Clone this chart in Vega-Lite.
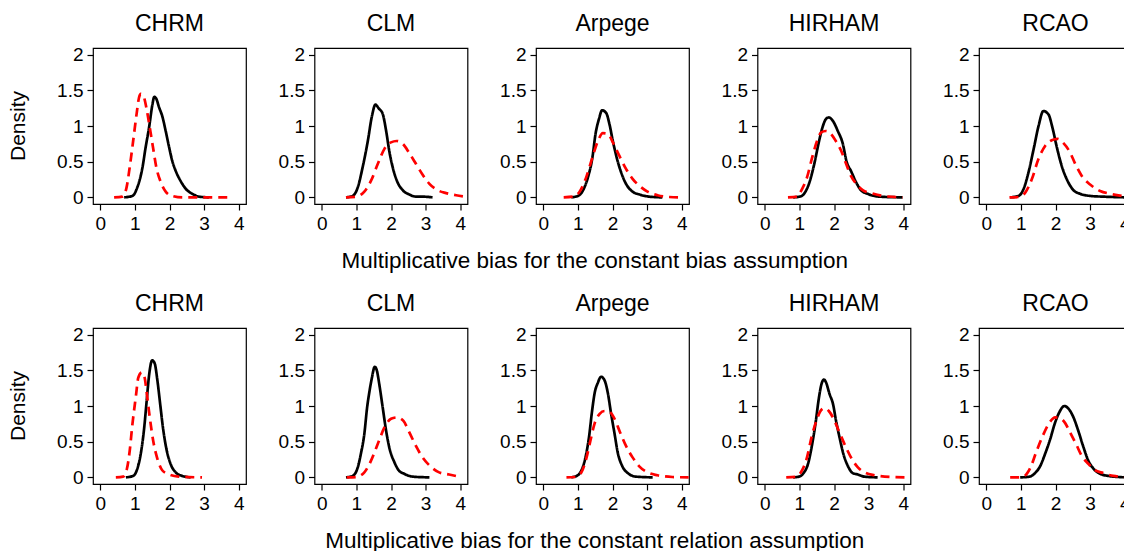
{
  "$schema": "https://vega.github.io/schema/vega-lite/v6.json",
  "padding": {"left": 8, "top": 13, "right": 0, "bottom": 0},
  "config": {
    "font": "Liberation Sans",
    "view": {"stroke": "black", "strokeWidth": 1.2},
    "axis": {"grid": false, "domain": false, "tickColor": "black", "tickSize": 6, "tickWidth": 1.2, "labelColor": "black", "labelFontSize": 19, "labelPadding": 4, "labelFont": "Liberation Sans", "title": null},
    "header": {"labelFont": "Liberation Sans", "labelColor": "black"},
    "title": {"font": "Liberation Sans", "fontWeight": "normal", "color": "black"}
  },
  "datasets": {
    "d": [
      {"assumption":"bias","model":"CHRM","curve":"1","x":0.69,"y":0},{"assumption":"bias","model":"CHRM","curve":"1","x":0.93,"y":0.02},{"assumption":"bias","model":"CHRM","curve":"1","x":1.07,"y":0.14},{"assumption":"bias","model":"CHRM","curve":"1","x":1.22,"y":0.42},{"assumption":"bias","model":"CHRM","curve":"1","x":1.31,"y":0.70},{"assumption":"bias","model":"CHRM","curve":"1","x":1.41,"y":0.98},{"assumption":"bias","model":"CHRM","curve":"1","x":1.51,"y":1.31},{"assumption":"bias","model":"CHRM","curve":"1","x":1.56,"y":1.41},{"assumption":"bias","model":"CHRM","curve":"1","x":1.62,"y":1.38},{"assumption":"bias","model":"CHRM","curve":"1","x":1.70,"y":1.26},{"assumption":"bias","model":"CHRM","curve":"1","x":1.79,"y":1.14},{"assumption":"bias","model":"CHRM","curve":"1","x":1.89,"y":0.93},{"assumption":"bias","model":"CHRM","curve":"1","x":1.99,"y":0.70},{"assumption":"bias","model":"CHRM","curve":"1","x":2.08,"y":0.51},{"assumption":"bias","model":"CHRM","curve":"1","x":2.18,"y":0.37},{"assumption":"bias","model":"CHRM","curve":"1","x":2.32,"y":0.23},{"assumption":"bias","model":"CHRM","curve":"1","x":2.47,"y":0.12},{"assumption":"bias","model":"CHRM","curve":"1","x":2.66,"y":0.05},{"assumption":"bias","model":"CHRM","curve":"1","x":2.85,"y":0.01},{"assumption":"bias","model":"CHRM","curve":"1","x":3.14,"y":0},
      {"assumption":"bias","model":"CHRM","curve":"2","x":0.40,"y":0},{"assumption":"bias","model":"CHRM","curve":"2","x":0.64,"y":0.01},{"assumption":"bias","model":"CHRM","curve":"2","x":0.76,"y":0.14},{"assumption":"bias","model":"CHRM","curve":"2","x":0.85,"y":0.42},{"assumption":"bias","model":"CHRM","curve":"2","x":0.95,"y":0.79},{"assumption":"bias","model":"CHRM","curve":"2","x":1.05,"y":1.17},{"assumption":"bias","model":"CHRM","curve":"2","x":1.12,"y":1.40},{"assumption":"bias","model":"CHRM","curve":"2","x":1.17,"y":1.45},{"assumption":"bias","model":"CHRM","curve":"2","x":1.24,"y":1.43},{"assumption":"bias","model":"CHRM","curve":"2","x":1.33,"y":1.26},{"assumption":"bias","model":"CHRM","curve":"2","x":1.43,"y":0.98},{"assumption":"bias","model":"CHRM","curve":"2","x":1.53,"y":0.68},{"assumption":"bias","model":"CHRM","curve":"2","x":1.62,"y":0.42},{"assumption":"bias","model":"CHRM","curve":"2","x":1.75,"y":0.21},{"assumption":"bias","model":"CHRM","curve":"2","x":1.89,"y":0.08},{"assumption":"bias","model":"CHRM","curve":"2","x":2.08,"y":0.02},{"assumption":"bias","model":"CHRM","curve":"2","x":2.37,"y":0},{"assumption":"bias","model":"CHRM","curve":"2","x":3.71,"y":0},
      {"assumption":"bias","model":"CLM","curve":"1","x":0.70,"y":0},{"assumption":"bias","model":"CLM","curve":"1","x":0.89,"y":0.02},{"assumption":"bias","model":"CLM","curve":"1","x":1.04,"y":0.14},{"assumption":"bias","model":"CLM","curve":"1","x":1.18,"y":0.42},{"assumption":"bias","model":"CLM","curve":"1","x":1.33,"y":0.79},{"assumption":"bias","model":"CLM","curve":"1","x":1.45,"y":1.14},{"assumption":"bias","model":"CLM","curve":"1","x":1.55,"y":1.30},{"assumption":"bias","model":"CLM","curve":"1","x":1.64,"y":1.25},{"assumption":"bias","model":"CLM","curve":"1","x":1.76,"y":1.17},{"assumption":"bias","model":"CLM","curve":"1","x":1.86,"y":0.93},{"assumption":"bias","model":"CLM","curve":"1","x":1.95,"y":0.65},{"assumption":"bias","model":"CLM","curve":"1","x":2.05,"y":0.42},{"assumption":"bias","model":"CLM","curve":"1","x":2.19,"y":0.21},{"assumption":"bias","model":"CLM","curve":"1","x":2.34,"y":0.10},{"assumption":"bias","model":"CLM","curve":"1","x":2.53,"y":0.04},{"assumption":"bias","model":"CLM","curve":"1","x":2.72,"y":0.01},{"assumption":"bias","model":"CLM","curve":"1","x":2.91,"y":0.01},{"assumption":"bias","model":"CLM","curve":"1","x":3.20,"y":0},
      {"assumption":"bias","model":"CLM","curve":"2","x":0.70,"y":0},{"assumption":"bias","model":"CLM","curve":"2","x":0.99,"y":0.01},{"assumption":"bias","model":"CLM","curve":"2","x":1.23,"y":0.08},{"assumption":"bias","model":"CLM","curve":"2","x":1.42,"y":0.23},{"assumption":"bias","model":"CLM","curve":"2","x":1.62,"y":0.47},{"assumption":"bias","model":"CLM","curve":"2","x":1.81,"y":0.68},{"assumption":"bias","model":"CLM","curve":"2","x":2.00,"y":0.77},{"assumption":"bias","model":"CLM","curve":"2","x":2.16,"y":0.79},{"assumption":"bias","model":"CLM","curve":"2","x":2.34,"y":0.75},{"assumption":"bias","model":"CLM","curve":"2","x":2.53,"y":0.62},{"assumption":"bias","model":"CLM","curve":"2","x":2.72,"y":0.47},{"assumption":"bias","model":"CLM","curve":"2","x":2.91,"y":0.32},{"assumption":"bias","model":"CLM","curve":"2","x":3.11,"y":0.19},{"assumption":"bias","model":"CLM","curve":"2","x":3.35,"y":0.10},{"assumption":"bias","model":"CLM","curve":"2","x":3.59,"y":0.06},{"assumption":"bias","model":"CLM","curve":"2","x":3.88,"y":0.03},{"assumption":"bias","model":"CLM","curve":"2","x":4.12,"y":0.01},
      {"assumption":"bias","model":"Arpege","curve":"1","x":0.81,"y":0},{"assumption":"bias","model":"Arpege","curve":"1","x":1.00,"y":0.02},{"assumption":"bias","model":"Arpege","curve":"1","x":1.15,"y":0.10},{"assumption":"bias","model":"Arpege","curve":"1","x":1.29,"y":0.28},{"assumption":"bias","model":"Arpege","curve":"1","x":1.42,"y":0.56},{"assumption":"bias","model":"Arpege","curve":"1","x":1.51,"y":0.89},{"assumption":"bias","model":"Arpege","curve":"1","x":1.61,"y":1.10},{"assumption":"bias","model":"Arpege","curve":"1","x":1.70,"y":1.22},{"assumption":"bias","model":"Arpege","curve":"1","x":1.82,"y":1.18},{"assumption":"bias","model":"Arpege","curve":"1","x":1.91,"y":1.03},{"assumption":"bias","model":"Arpege","curve":"1","x":2.01,"y":0.79},{"assumption":"bias","model":"Arpege","curve":"1","x":2.12,"y":0.56},{"assumption":"bias","model":"Arpege","curve":"1","x":2.25,"y":0.35},{"assumption":"bias","model":"Arpege","curve":"1","x":2.39,"y":0.19},{"assumption":"bias","model":"Arpege","curve":"1","x":2.58,"y":0.08},{"assumption":"bias","model":"Arpege","curve":"1","x":2.78,"y":0.04},{"assumption":"bias","model":"Arpege","curve":"1","x":3.06,"y":0.01},{"assumption":"bias","model":"Arpege","curve":"1","x":3.44,"y":0},
      {"assumption":"bias","model":"Arpege","curve":"2","x":0.59,"y":0},{"assumption":"bias","model":"Arpege","curve":"2","x":0.86,"y":0.01},{"assumption":"bias","model":"Arpege","curve":"2","x":1.05,"y":0.08},{"assumption":"bias","model":"Arpege","curve":"2","x":1.24,"y":0.28},{"assumption":"bias","model":"Arpege","curve":"2","x":1.42,"y":0.56},{"assumption":"bias","model":"Arpege","curve":"2","x":1.58,"y":0.79},{"assumption":"bias","model":"Arpege","curve":"2","x":1.72,"y":0.90},{"assumption":"bias","model":"Arpege","curve":"2","x":1.87,"y":0.89},{"assumption":"bias","model":"Arpege","curve":"2","x":2.01,"y":0.77},{"assumption":"bias","model":"Arpege","curve":"2","x":2.20,"y":0.58},{"assumption":"bias","model":"Arpege","curve":"2","x":2.39,"y":0.40},{"assumption":"bias","model":"Arpege","curve":"2","x":2.58,"y":0.26},{"assumption":"bias","model":"Arpege","curve":"2","x":2.78,"y":0.16},{"assumption":"bias","model":"Arpege","curve":"2","x":3.01,"y":0.08},{"assumption":"bias","model":"Arpege","curve":"2","x":3.30,"y":0.03},{"assumption":"bias","model":"Arpege","curve":"2","x":3.64,"y":0.005},{"assumption":"bias","model":"Arpege","curve":"2","x":4.02,"y":0},
      {"assumption":"bias","model":"HIRHAM","curve":"1","x":0.82,"y":0},{"assumption":"bias","model":"HIRHAM","curve":"1","x":1.01,"y":0.01},{"assumption":"bias","model":"HIRHAM","curve":"1","x":1.15,"y":0.06},{"assumption":"bias","model":"HIRHAM","curve":"1","x":1.29,"y":0.21},{"assumption":"bias","model":"HIRHAM","curve":"1","x":1.44,"y":0.49},{"assumption":"bias","model":"HIRHAM","curve":"1","x":1.56,"y":0.77},{"assumption":"bias","model":"HIRHAM","curve":"1","x":1.68,"y":1.00},{"assumption":"bias","model":"HIRHAM","curve":"1","x":1.77,"y":1.10},{"assumption":"bias","model":"HIRHAM","curve":"1","x":1.85,"y":1.12},{"assumption":"bias","model":"HIRHAM","curve":"1","x":1.97,"y":1.07},{"assumption":"bias","model":"HIRHAM","curve":"1","x":2.11,"y":0.93},{"assumption":"bias","model":"HIRHAM","curve":"1","x":2.25,"y":0.76},{"assumption":"bias","model":"HIRHAM","curve":"1","x":2.37,"y":0.49},{"assumption":"bias","model":"HIRHAM","curve":"1","x":2.49,"y":0.37},{"assumption":"bias","model":"HIRHAM","curve":"1","x":2.64,"y":0.21},{"assumption":"bias","model":"HIRHAM","curve":"1","x":2.78,"y":0.10},{"assumption":"bias","model":"HIRHAM","curve":"1","x":2.97,"y":0.05},{"assumption":"bias","model":"HIRHAM","curve":"1","x":3.31,"y":0.01},{"assumption":"bias","model":"HIRHAM","curve":"1","x":3.98,"y":0},
      {"assumption":"bias","model":"HIRHAM","curve":"2","x":0.67,"y":0},{"assumption":"bias","model":"HIRHAM","curve":"2","x":0.93,"y":0.01},{"assumption":"bias","model":"HIRHAM","curve":"2","x":1.08,"y":0.12},{"assumption":"bias","model":"HIRHAM","curve":"2","x":1.22,"y":0.28},{"assumption":"bias","model":"HIRHAM","curve":"2","x":1.37,"y":0.56},{"assumption":"bias","model":"HIRHAM","curve":"2","x":1.51,"y":0.79},{"assumption":"bias","model":"HIRHAM","curve":"2","x":1.63,"y":0.91},{"assumption":"bias","model":"HIRHAM","curve":"2","x":1.76,"y":0.93},{"assumption":"bias","model":"HIRHAM","curve":"2","x":1.89,"y":0.90},{"assumption":"bias","model":"HIRHAM","curve":"2","x":2.04,"y":0.80},{"assumption":"bias","model":"HIRHAM","curve":"2","x":2.21,"y":0.65},{"assumption":"bias","model":"HIRHAM","curve":"2","x":2.35,"y":0.47},{"assumption":"bias","model":"HIRHAM","curve":"2","x":2.49,"y":0.30},{"assumption":"bias","model":"HIRHAM","curve":"2","x":2.66,"y":0.18},{"assumption":"bias","model":"HIRHAM","curve":"2","x":2.83,"y":0.10},{"assumption":"bias","model":"HIRHAM","curve":"2","x":3.07,"y":0.06},{"assumption":"bias","model":"HIRHAM","curve":"2","x":3.41,"y":0.02},{"assumption":"bias","model":"HIRHAM","curve":"2","x":3.98,"y":0},
      {"assumption":"bias","model":"RCAO","curve":"1","x":0.69,"y":0},{"assumption":"bias","model":"RCAO","curve":"1","x":0.93,"y":0.02},{"assumption":"bias","model":"RCAO","curve":"1","x":1.08,"y":0.12},{"assumption":"bias","model":"RCAO","curve":"1","x":1.22,"y":0.35},{"assumption":"bias","model":"RCAO","curve":"1","x":1.37,"y":0.68},{"assumption":"bias","model":"RCAO","curve":"1","x":1.51,"y":1.00},{"assumption":"bias","model":"RCAO","curve":"1","x":1.65,"y":1.21},{"assumption":"bias","model":"RCAO","curve":"1","x":1.80,"y":1.16},{"assumption":"bias","model":"RCAO","curve":"1","x":1.91,"y":0.98},{"assumption":"bias","model":"RCAO","curve":"1","x":2.04,"y":0.70},{"assumption":"bias","model":"RCAO","curve":"1","x":2.18,"y":0.44},{"assumption":"bias","model":"RCAO","curve":"1","x":2.35,"y":0.23},{"assumption":"bias","model":"RCAO","curve":"1","x":2.52,"y":0.10},{"assumption":"bias","model":"RCAO","curve":"1","x":2.71,"y":0.05},{"assumption":"bias","model":"RCAO","curve":"1","x":3.00,"y":0.02},{"assumption":"bias","model":"RCAO","curve":"1","x":3.38,"y":0.01},{"assumption":"bias","model":"RCAO","curve":"1","x":4.08,"y":0},
      {"assumption":"bias","model":"RCAO","curve":"2","x":0.67,"y":0},{"assumption":"bias","model":"RCAO","curve":"2","x":0.93,"y":0.005},{"assumption":"bias","model":"RCAO","curve":"2","x":1.13,"y":0.07},{"assumption":"bias","model":"RCAO","curve":"2","x":1.32,"y":0.26},{"assumption":"bias","model":"RCAO","curve":"2","x":1.51,"y":0.54},{"assumption":"bias","model":"RCAO","curve":"2","x":1.70,"y":0.72},{"assumption":"bias","model":"RCAO","curve":"2","x":1.89,"y":0.80},{"assumption":"bias","model":"RCAO","curve":"2","x":2.06,"y":0.82},{"assumption":"bias","model":"RCAO","curve":"2","x":2.23,"y":0.76},{"assumption":"bias","model":"RCAO","curve":"2","x":2.42,"y":0.63},{"assumption":"bias","model":"RCAO","curve":"2","x":2.57,"y":0.47},{"assumption":"bias","model":"RCAO","curve":"2","x":2.76,"y":0.30},{"assumption":"bias","model":"RCAO","curve":"2","x":3.00,"y":0.18},{"assumption":"bias","model":"RCAO","curve":"2","x":3.29,"y":0.09},{"assumption":"bias","model":"RCAO","curve":"2","x":3.58,"y":0.05},{"assumption":"bias","model":"RCAO","curve":"2","x":4.08,"y":0.01},
      {"assumption":"relation","model":"CHRM","curve":"1","x":0.74,"y":0},{"assumption":"relation","model":"CHRM","curve":"1","x":0.95,"y":0.02},{"assumption":"relation","model":"CHRM","curve":"1","x":1.07,"y":0.12},{"assumption":"relation","model":"CHRM","curve":"1","x":1.17,"y":0.33},{"assumption":"relation","model":"CHRM","curve":"1","x":1.27,"y":0.70},{"assumption":"relation","model":"CHRM","curve":"1","x":1.34,"y":1.07},{"assumption":"relation","model":"CHRM","curve":"1","x":1.41,"y":1.43},{"assumption":"relation","model":"CHRM","curve":"1","x":1.50,"y":1.64},{"assumption":"relation","model":"CHRM","curve":"1","x":1.57,"y":1.60},{"assumption":"relation","model":"CHRM","curve":"1","x":1.65,"y":1.36},{"assumption":"relation","model":"CHRM","curve":"1","x":1.73,"y":1.03},{"assumption":"relation","model":"CHRM","curve":"1","x":1.81,"y":0.70},{"assumption":"relation","model":"CHRM","curve":"1","x":1.91,"y":0.40},{"assumption":"relation","model":"CHRM","curve":"1","x":2.03,"y":0.19},{"assumption":"relation","model":"CHRM","curve":"1","x":2.18,"y":0.07},{"assumption":"relation","model":"CHRM","curve":"1","x":2.37,"y":0.02},{"assumption":"relation","model":"CHRM","curve":"1","x":2.61,"y":0},
      {"assumption":"relation","model":"CHRM","curve":"2","x":0.45,"y":0},{"assumption":"relation","model":"CHRM","curve":"2","x":0.66,"y":0.01},{"assumption":"relation","model":"CHRM","curve":"2","x":0.77,"y":0.12},{"assumption":"relation","model":"CHRM","curve":"2","x":0.85,"y":0.37},{"assumption":"relation","model":"CHRM","curve":"2","x":0.93,"y":0.75},{"assumption":"relation","model":"CHRM","curve":"2","x":1.03,"y":1.14},{"assumption":"relation","model":"CHRM","curve":"2","x":1.10,"y":1.40},{"assumption":"relation","model":"CHRM","curve":"2","x":1.20,"y":1.47},{"assumption":"relation","model":"CHRM","curve":"2","x":1.28,"y":1.40},{"assumption":"relation","model":"CHRM","curve":"2","x":1.34,"y":1.19},{"assumption":"relation","model":"CHRM","curve":"2","x":1.43,"y":0.84},{"assumption":"relation","model":"CHRM","curve":"2","x":1.53,"y":0.51},{"assumption":"relation","model":"CHRM","curve":"2","x":1.65,"y":0.26},{"assumption":"relation","model":"CHRM","curve":"2","x":1.79,"y":0.10},{"assumption":"relation","model":"CHRM","curve":"2","x":1.99,"y":0.04},{"assumption":"relation","model":"CHRM","curve":"2","x":2.27,"y":0.01},{"assumption":"relation","model":"CHRM","curve":"2","x":2.94,"y":0},
      {"assumption":"relation","model":"CLM","curve":"1","x":0.70,"y":0},{"assumption":"relation","model":"CLM","curve":"1","x":0.89,"y":0.02},{"assumption":"relation","model":"CLM","curve":"1","x":1.04,"y":0.14},{"assumption":"relation","model":"CLM","curve":"1","x":1.13,"y":0.33},{"assumption":"relation","model":"CLM","curve":"1","x":1.23,"y":0.61},{"assumption":"relation","model":"CLM","curve":"1","x":1.31,"y":0.98},{"assumption":"relation","model":"CLM","curve":"1","x":1.38,"y":1.21},{"assumption":"relation","model":"CLM","curve":"1","x":1.45,"y":1.40},{"assumption":"relation","model":"CLM","curve":"1","x":1.53,"y":1.55},{"assumption":"relation","model":"CLM","curve":"1","x":1.59,"y":1.50},{"assumption":"relation","model":"CLM","curve":"1","x":1.66,"y":1.31},{"assumption":"relation","model":"CLM","curve":"1","x":1.76,"y":0.98},{"assumption":"relation","model":"CLM","curve":"1","x":1.86,"y":0.65},{"assumption":"relation","model":"CLM","curve":"1","x":1.95,"y":0.42},{"assumption":"relation","model":"CLM","curve":"1","x":2.10,"y":0.21},{"assumption":"relation","model":"CLM","curve":"1","x":2.22,"y":0.10},{"assumption":"relation","model":"CLM","curve":"1","x":2.38,"y":0.05},{"assumption":"relation","model":"CLM","curve":"1","x":2.63,"y":0.01},{"assumption":"relation","model":"CLM","curve":"1","x":3.11,"y":0},
      {"assumption":"relation","model":"CLM","curve":"2","x":0.72,"y":0},{"assumption":"relation","model":"CLM","curve":"2","x":0.99,"y":0.005},{"assumption":"relation","model":"CLM","curve":"2","x":1.23,"y":0.07},{"assumption":"relation","model":"CLM","curve":"2","x":1.42,"y":0.23},{"assumption":"relation","model":"CLM","curve":"2","x":1.62,"y":0.47},{"assumption":"relation","model":"CLM","curve":"2","x":1.81,"y":0.70},{"assumption":"relation","model":"CLM","curve":"2","x":2.00,"y":0.82},{"assumption":"relation","model":"CLM","curve":"2","x":2.18,"y":0.84},{"assumption":"relation","model":"CLM","curve":"2","x":2.36,"y":0.79},{"assumption":"relation","model":"CLM","curve":"2","x":2.53,"y":0.63},{"assumption":"relation","model":"CLM","curve":"2","x":2.72,"y":0.44},{"assumption":"relation","model":"CLM","curve":"2","x":2.91,"y":0.28},{"assumption":"relation","model":"CLM","curve":"2","x":3.15,"y":0.15},{"assumption":"relation","model":"CLM","curve":"2","x":3.39,"y":0.07},{"assumption":"relation","model":"CLM","curve":"2","x":3.68,"y":0.04},{"assumption":"relation","model":"CLM","curve":"2","x":3.97,"y":0.01},
      {"assumption":"relation","model":"Arpege","curve":"1","x":0.81,"y":0},{"assumption":"relation","model":"Arpege","curve":"1","x":1.00,"y":0.03},{"assumption":"relation","model":"Arpege","curve":"1","x":1.13,"y":0.13},{"assumption":"relation","model":"Arpege","curve":"1","x":1.22,"y":0.28},{"assumption":"relation","model":"Arpege","curve":"1","x":1.32,"y":0.56},{"assumption":"relation","model":"Arpege","curve":"1","x":1.41,"y":0.93},{"assumption":"relation","model":"Arpege","curve":"1","x":1.48,"y":1.17},{"assumption":"relation","model":"Arpege","curve":"1","x":1.58,"y":1.33},{"assumption":"relation","model":"Arpege","curve":"1","x":1.67,"y":1.41},{"assumption":"relation","model":"Arpege","curve":"1","x":1.77,"y":1.36},{"assumption":"relation","model":"Arpege","curve":"1","x":1.87,"y":1.17},{"assumption":"relation","model":"Arpege","curve":"1","x":1.96,"y":0.89},{"assumption":"relation","model":"Arpege","curve":"1","x":2.06,"y":0.61},{"assumption":"relation","model":"Arpege","curve":"1","x":2.15,"y":0.35},{"assumption":"relation","model":"Arpege","curve":"1","x":2.28,"y":0.16},{"assumption":"relation","model":"Arpege","curve":"1","x":2.44,"y":0.06},{"assumption":"relation","model":"Arpege","curve":"1","x":2.68,"y":0.01},{"assumption":"relation","model":"Arpege","curve":"1","x":3.16,"y":0},
      {"assumption":"relation","model":"Arpege","curve":"2","x":0.67,"y":0},{"assumption":"relation","model":"Arpege","curve":"2","x":0.91,"y":0.005},{"assumption":"relation","model":"Arpege","curve":"2","x":1.10,"y":0.07},{"assumption":"relation","model":"Arpege","curve":"2","x":1.24,"y":0.26},{"assumption":"relation","model":"Arpege","curve":"2","x":1.36,"y":0.51},{"assumption":"relation","model":"Arpege","curve":"2","x":1.48,"y":0.75},{"assumption":"relation","model":"Arpege","curve":"2","x":1.63,"y":0.89},{"assumption":"relation","model":"Arpege","curve":"2","x":1.77,"y":0.93},{"assumption":"relation","model":"Arpege","curve":"2","x":1.91,"y":0.92},{"assumption":"relation","model":"Arpege","curve":"2","x":2.06,"y":0.82},{"assumption":"relation","model":"Arpege","curve":"2","x":2.22,"y":0.63},{"assumption":"relation","model":"Arpege","curve":"2","x":2.39,"y":0.44},{"assumption":"relation","model":"Arpege","curve":"2","x":2.58,"y":0.28},{"assumption":"relation","model":"Arpege","curve":"2","x":2.78,"y":0.15},{"assumption":"relation","model":"Arpege","curve":"2","x":3.01,"y":0.07},{"assumption":"relation","model":"Arpege","curve":"2","x":3.30,"y":0.03},{"assumption":"relation","model":"Arpege","curve":"2","x":3.73,"y":0.005},{"assumption":"relation","model":"Arpege","curve":"2","x":4.2,"y":0},
      {"assumption":"relation","model":"HIRHAM","curve":"1","x":0.82,"y":0},{"assumption":"relation","model":"HIRHAM","curve":"1","x":0.99,"y":0.01},{"assumption":"relation","model":"HIRHAM","curve":"1","x":1.12,"y":0.06},{"assumption":"relation","model":"HIRHAM","curve":"1","x":1.25,"y":0.19},{"assumption":"relation","model":"HIRHAM","curve":"1","x":1.36,"y":0.44},{"assumption":"relation","model":"HIRHAM","curve":"1","x":1.47,"y":0.77},{"assumption":"relation","model":"HIRHAM","curve":"1","x":1.56,"y":1.10},{"assumption":"relation","model":"HIRHAM","curve":"1","x":1.64,"y":1.31},{"assumption":"relation","model":"HIRHAM","curve":"1","x":1.71,"y":1.37},{"assumption":"relation","model":"HIRHAM","curve":"1","x":1.77,"y":1.33},{"assumption":"relation","model":"HIRHAM","curve":"1","x":1.87,"y":1.17},{"assumption":"relation","model":"HIRHAM","curve":"1","x":1.97,"y":1.03},{"assumption":"relation","model":"HIRHAM","curve":"1","x":2.06,"y":0.79},{"assumption":"relation","model":"HIRHAM","curve":"1","x":2.16,"y":0.56},{"assumption":"relation","model":"HIRHAM","curve":"1","x":2.27,"y":0.33},{"assumption":"relation","model":"HIRHAM","curve":"1","x":2.40,"y":0.16},{"assumption":"relation","model":"HIRHAM","curve":"1","x":2.54,"y":0.06},{"assumption":"relation","model":"HIRHAM","curve":"1","x":2.69,"y":0.04},{"assumption":"relation","model":"HIRHAM","curve":"1","x":2.88,"y":0.01},{"assumption":"relation","model":"HIRHAM","curve":"1","x":3.26,"y":0},
      {"assumption":"relation","model":"HIRHAM","curve":"2","x":0.62,"y":0},{"assumption":"relation","model":"HIRHAM","curve":"2","x":0.91,"y":0.01},{"assumption":"relation","model":"HIRHAM","curve":"2","x":1.08,"y":0.10},{"assumption":"relation","model":"HIRHAM","curve":"2","x":1.22,"y":0.28},{"assumption":"relation","model":"HIRHAM","curve":"2","x":1.35,"y":0.56},{"assumption":"relation","model":"HIRHAM","curve":"2","x":1.49,"y":0.79},{"assumption":"relation","model":"HIRHAM","curve":"2","x":1.61,"y":0.93},{"assumption":"relation","model":"HIRHAM","curve":"2","x":1.72,"y":0.97},{"assumption":"relation","model":"HIRHAM","curve":"2","x":1.85,"y":0.93},{"assumption":"relation","model":"HIRHAM","curve":"2","x":1.99,"y":0.82},{"assumption":"relation","model":"HIRHAM","curve":"2","x":2.14,"y":0.65},{"assumption":"relation","model":"HIRHAM","curve":"2","x":2.30,"y":0.47},{"assumption":"relation","model":"HIRHAM","curve":"2","x":2.49,"y":0.28},{"assumption":"relation","model":"HIRHAM","curve":"2","x":2.69,"y":0.14},{"assumption":"relation","model":"HIRHAM","curve":"2","x":2.88,"y":0.07},{"assumption":"relation","model":"HIRHAM","curve":"2","x":3.17,"y":0.03},{"assumption":"relation","model":"HIRHAM","curve":"2","x":3.69,"y":0.005},{"assumption":"relation","model":"HIRHAM","curve":"2","x":4.17,"y":0},
      {"assumption":"relation","model":"RCAO","curve":"1","x":0.98,"y":0},{"assumption":"relation","model":"RCAO","curve":"1","x":1.25,"y":0.01},{"assumption":"relation","model":"RCAO","curve":"1","x":1.41,"y":0.06},{"assumption":"relation","model":"RCAO","curve":"1","x":1.56,"y":0.16},{"assumption":"relation","model":"RCAO","curve":"1","x":1.70,"y":0.33},{"assumption":"relation","model":"RCAO","curve":"1","x":1.85,"y":0.54},{"assumption":"relation","model":"RCAO","curve":"1","x":1.99,"y":0.77},{"assumption":"relation","model":"RCAO","curve":"1","x":2.13,"y":0.93},{"assumption":"relation","model":"RCAO","curve":"1","x":2.25,"y":1.00},{"assumption":"relation","model":"RCAO","curve":"1","x":2.38,"y":0.96},{"assumption":"relation","model":"RCAO","curve":"1","x":2.52,"y":0.84},{"assumption":"relation","model":"RCAO","curve":"1","x":2.66,"y":0.65},{"assumption":"relation","model":"RCAO","curve":"1","x":2.81,"y":0.42},{"assumption":"relation","model":"RCAO","curve":"1","x":2.95,"y":0.23},{"assumption":"relation","model":"RCAO","curve":"1","x":3.10,"y":0.12},{"assumption":"relation","model":"RCAO","curve":"1","x":3.29,"y":0.05},{"assumption":"relation","model":"RCAO","curve":"1","x":3.53,"y":0.02},{"assumption":"relation","model":"RCAO","curve":"1","x":3.82,"y":0.005},{"assumption":"relation","model":"RCAO","curve":"1","x":4.08,"y":0},
      {"assumption":"relation","model":"RCAO","curve":"2","x":0.69,"y":0},{"assumption":"relation","model":"RCAO","curve":"2","x":0.96,"y":0},{"assumption":"relation","model":"RCAO","curve":"2","x":1.13,"y":0.03},{"assumption":"relation","model":"RCAO","curve":"2","x":1.27,"y":0.13},{"assumption":"relation","model":"RCAO","curve":"2","x":1.44,"y":0.35},{"assumption":"relation","model":"RCAO","curve":"2","x":1.63,"y":0.58},{"assumption":"relation","model":"RCAO","curve":"2","x":1.83,"y":0.77},{"assumption":"relation","model":"RCAO","curve":"2","x":1.99,"y":0.84},{"assumption":"relation","model":"RCAO","curve":"2","x":2.13,"y":0.83},{"assumption":"relation","model":"RCAO","curve":"2","x":2.28,"y":0.76},{"assumption":"relation","model":"RCAO","curve":"2","x":2.42,"y":0.63},{"assumption":"relation","model":"RCAO","curve":"2","x":2.60,"y":0.46},{"assumption":"relation","model":"RCAO","curve":"2","x":2.76,"y":0.30},{"assumption":"relation","model":"RCAO","curve":"2","x":2.95,"y":0.19},{"assumption":"relation","model":"RCAO","curve":"2","x":3.14,"y":0.10},{"assumption":"relation","model":"RCAO","curve":"2","x":3.38,"y":0.06},{"assumption":"relation","model":"RCAO","curve":"2","x":3.67,"y":0.02},{"assumption":"relation","model":"RCAO","curve":"2","x":4.08,"y":0.005}
    ]
  },
  "data": {"name": "d"},
  "vconcat": [
    {
      "transform": [{"filter": "datum.assumption == 'bias'"}],
      "title": {"text": "Multiplicative bias for the constant bias assumption", "orient": "bottom", "anchor": "middle", "fontSize": 22.5, "offset": 16, "dx": 24},
      "bounds": "flush",
      "spacing": {"column": 68.5, "row": 0},
      "facet": {
        "column": {"field": "model", "sort": ["CHRM", "CLM", "Arpege", "HIRHAM", "RCAO"], "header": {"title": null, "labelFontSize": 23, "labelPadding": 12}},
        "row": {"field": "assumption", "header": {"title": null, "labelExpr": "'Density'", "labelAngle": -90, "labelOrient": "left", "labelFontSize": 21, "labelPadding": 53}}
      },
      "spec": {
        "width": 153, "height": 156,
        "mark": {"type": "line", "strokeWidth": 2.7, "interpolate": "monotone"},
        "encoding": {
          "x": {"field": "x", "type": "quantitative", "scale": {"domain": [-0.21, 4.21], "nice": false, "zero": false}, "axis": {"values": [0, 1, 2, 3, 4]}},
          "y": {"field": "y", "type": "quantitative", "scale": {"domain": [-0.093, 2.093], "nice": false, "zero": false}, "axis": {"values": [0, 0.5, 1, 1.5, 2], "format": "~g"}},
          "color": {"field": "curve", "type": "nominal", "scale": {"domain": ["1", "2"], "range": ["#000000", "#ff0000"]}, "legend": null},
          "strokeDash": {"field": "curve", "type": "nominal", "scale": {"domain": ["1", "2"], "range": [[1, 0], [9, 6]]}, "legend": null}
        }
      },
      "resolve": {"axis": {"x": "independent", "y": "independent"}}
    },
    {
      "transform": [{"filter": "datum.assumption == 'relation'"}],
      "title": {"text": "Multiplicative bias for the constant relation assumption", "orient": "bottom", "anchor": "middle", "fontSize": 22.5, "offset": 16, "dx": 24},
      "bounds": "flush",
      "spacing": {"column": 68.5, "row": 0},
      "facet": {
        "column": {"field": "model", "sort": ["CHRM", "CLM", "Arpege", "HIRHAM", "RCAO"], "header": {"title": null, "labelFontSize": 23, "labelPadding": 12}},
        "row": {"field": "assumption", "header": {"title": null, "labelExpr": "'Density'", "labelAngle": -90, "labelOrient": "left", "labelFontSize": 21, "labelPadding": 53}}
      },
      "spec": {
        "width": 153, "height": 156,
        "mark": {"type": "line", "strokeWidth": 2.7, "interpolate": "monotone"},
        "encoding": {
          "x": {"field": "x", "type": "quantitative", "scale": {"domain": [-0.21, 4.21], "nice": false, "zero": false}, "axis": {"values": [0, 1, 2, 3, 4]}},
          "y": {"field": "y", "type": "quantitative", "scale": {"domain": [-0.093, 2.093], "nice": false, "zero": false}, "axis": {"values": [0, 0.5, 1, 1.5, 2], "format": "~g"}},
          "color": {"field": "curve", "type": "nominal", "scale": {"domain": ["1", "2"], "range": ["#000000", "#ff0000"]}, "legend": null},
          "strokeDash": {"field": "curve", "type": "nominal", "scale": {"domain": ["1", "2"], "range": [[1, 0], [9, 6]]}, "legend": null}
        }
      },
      "resolve": {"axis": {"x": "independent", "y": "independent"}}
    }
  ],
  "spacing": 20
}
